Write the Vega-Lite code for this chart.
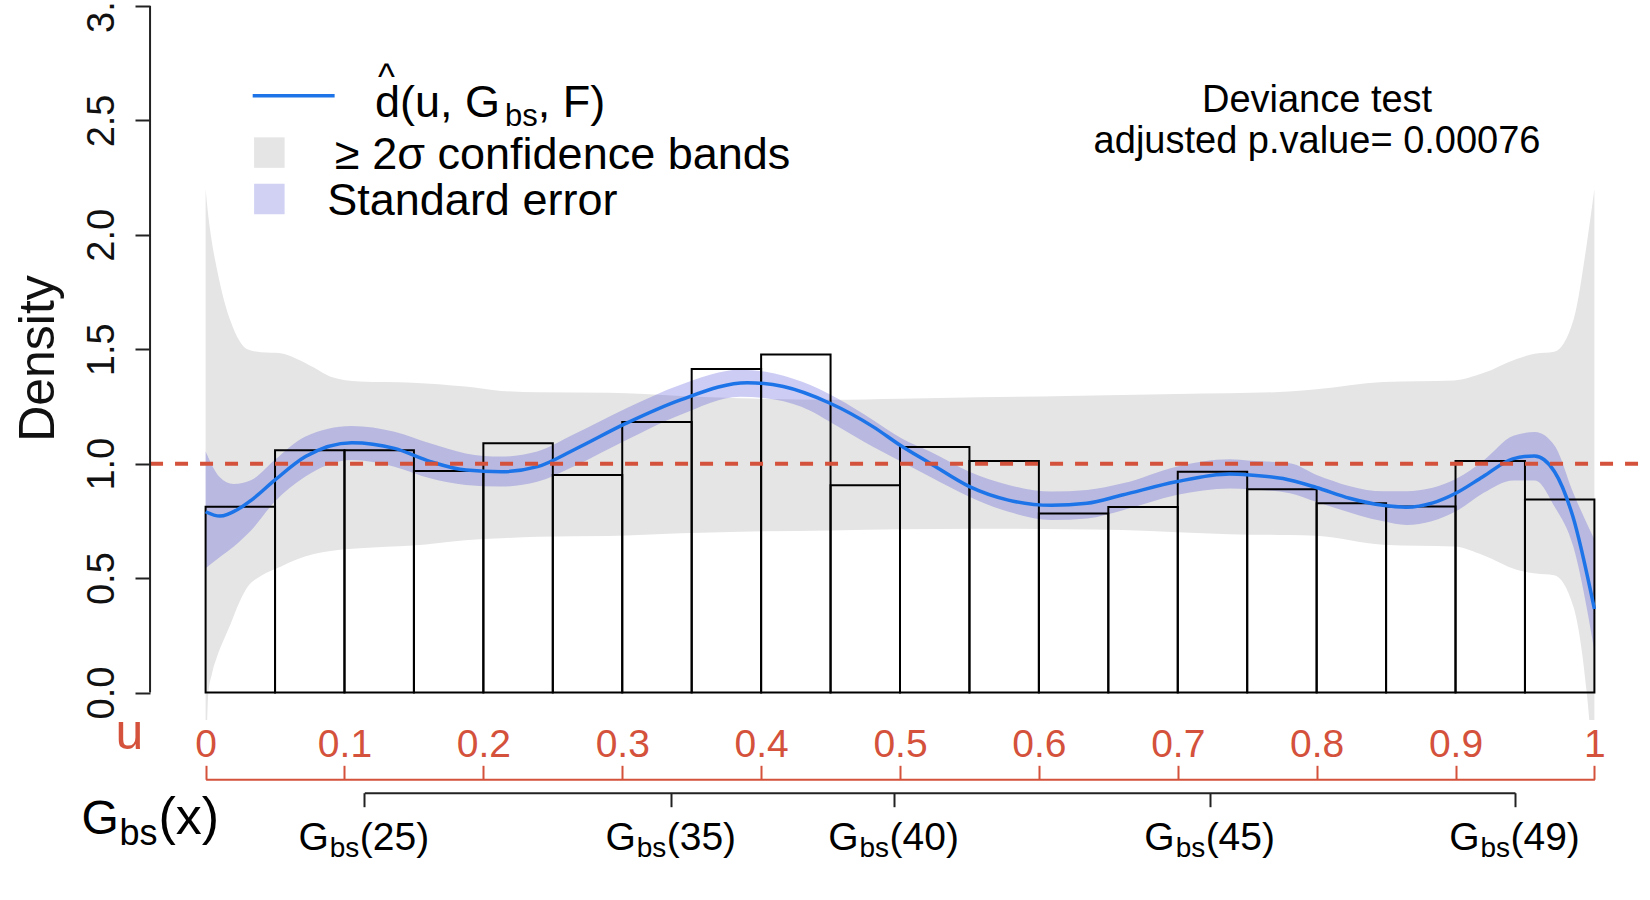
{
  "$schema": "https://vega.github.io/schema/vega-lite/v6.json",
  "width": 1500,
  "height": 714,
  "autosize": {"type": "none"},
  "padding": {"left": 150, "top": 6, "right": 0, "bottom": 180},
  "background": "white",
  "config": {
    "view": {"stroke": null},
    "font": "Liberation Sans",
    "axis": {"grid": false, "labelFont": "Liberation Sans", "titleFont": "Liberation Sans", "titleFontWeight": "normal", "labelFlush": false, "labelOverlap": false, "labelBound": false},
    "text": {"font": "Liberation Sans", "color": "#000"}
  },
  "datasets": {
    "hist": [
      {"start": 0.00, "end": 0.05, "density": 0.812},
      {"start": 0.05, "end": 0.10, "density": 1.059},
      {"start": 0.10, "end": 0.15, "density": 1.059},
      {"start": 0.15, "end": 0.20, "density": 0.968},
      {"start": 0.20, "end": 0.25, "density": 1.089},
      {"start": 0.25, "end": 0.30, "density": 0.951},
      {"start": 0.30, "end": 0.35, "density": 1.182},
      {"start": 0.35, "end": 0.40, "density": 1.414},
      {"start": 0.40, "end": 0.45, "density": 1.477},
      {"start": 0.45, "end": 0.50, "density": 0.906},
      {"start": 0.50, "end": 0.55, "density": 1.073},
      {"start": 0.55, "end": 0.60, "density": 1.012},
      {"start": 0.60, "end": 0.65, "density": 0.782},
      {"start": 0.65, "end": 0.70, "density": 0.811},
      {"start": 0.70, "end": 0.75, "density": 0.965},
      {"start": 0.75, "end": 0.80, "density": 0.888},
      {"start": 0.80, "end": 0.85, "density": 0.827},
      {"start": 0.85, "end": 0.90, "density": 0.813},
      {"start": 0.90, "end": 0.95, "density": 1.012},
      {"start": 0.95, "end": 1.00, "density": 0.843}
    ],
    "curve": [
      {"u": 0, "d": 0.790}, {"u": 0.0103, "d": 0.771}, {"u": 0.0244, "d": 0.805}, {"u": 0.033, "d": 0.841},
      {"u": 0.05, "d": 0.929}, {"u": 0.0719, "d": 1.031}, {"u": 0.1053, "d": 1.092}, {"u": 0.136, "d": 1.067},
      {"u": 0.162, "d": 1.009}, {"u": 0.1876, "d": 0.972}, {"u": 0.213, "d": 0.965}, {"u": 0.239, "d": 0.987},
      {"u": 0.265, "d": 1.06}, {"u": 0.303, "d": 1.177}, {"u": 0.342, "d": 1.279}, {"u": 0.39, "d": 1.354},
      {"u": 0.416, "d": 1.337}, {"u": 0.4496, "d": 1.264}, {"u": 0.4805, "d": 1.162}, {"u": 0.501, "d": 1.077},
      {"u": 0.5216, "d": 1.002}, {"u": 0.55, "d": 0.900}, {"u": 0.578, "d": 0.841}, {"u": 0.609, "d": 0.818},
      {"u": 0.6346, "d": 0.827}, {"u": 0.66, "d": 0.863}, {"u": 0.6988, "d": 0.921}, {"u": 0.7374, "d": 0.955},
      {"u": 0.7518, "d": 0.951}, {"u": 0.7758, "d": 0.935}, {"u": 0.7998, "d": 0.896}, {"u": 0.8237, "d": 0.849},
      {"u": 0.8477, "d": 0.818}, {"u": 0.8645, "d": 0.810}, {"u": 0.8837, "d": 0.829}, {"u": 0.9005, "d": 0.872},
      {"u": 0.9197, "d": 0.943}, {"u": 0.9412, "d": 1.021}, {"u": 0.9568, "d": 1.034}, {"u": 0.9712, "d": 0.966},
      {"u": 0.9844, "d": 0.771}, {"u": 1.0, "d": 0.365}
    ],
    "band": [
      {"u": 0, "lo": -0.4, "hi": 2.2}, {"u": 0.002, "lo": 0.0, "hi": 2.08}, {"u": 0.0045, "lo": 0.08, "hi": 1.97},
      {"u": 0.0084, "lo": 0.16, "hi": 1.843}, {"u": 0.013, "lo": 0.23, "hi": 1.72}, {"u": 0.018, "lo": 0.30, "hi": 1.622},
      {"u": 0.024, "lo": 0.39, "hi": 1.54}, {"u": 0.030, "lo": 0.46, "hi": 1.50}, {"u": 0.040, "lo": 0.51, "hi": 1.487},
      {"u": 0.054, "lo": 0.55, "hi": 1.483}, {"u": 0.065, "lo": 0.58, "hi": 1.46}, {"u": 0.078, "lo": 0.605, "hi": 1.42},
      {"u": 0.090, "lo": 0.618, "hi": 1.38}, {"u": 0.111, "lo": 0.63, "hi": 1.359}, {"u": 0.149, "lo": 0.642, "hi": 1.354},
      {"u": 0.187, "lo": 0.666, "hi": 1.337}, {"u": 0.213, "lo": 0.674, "hi": 1.318}, {"u": 0.239, "lo": 0.681, "hi": 1.312},
      {"u": 0.29, "lo": 0.684, "hi": 1.31}, {"u": 0.342, "lo": 0.696, "hi": 1.296}, {"u": 0.385, "lo": 0.703, "hi": 1.286},
      {"u": 0.45, "lo": 0.708, "hi": 1.279}, {"u": 0.50, "lo": 0.713, "hi": 1.284}, {"u": 0.557, "lo": 0.716, "hi": 1.29},
      {"u": 0.62, "lo": 0.714, "hi": 1.296}, {"u": 0.66, "lo": 0.71, "hi": 1.30}, {"u": 0.70, "lo": 0.70, "hi": 1.305},
      {"u": 0.737, "lo": 0.692, "hi": 1.308}, {"u": 0.78, "lo": 0.688, "hi": 1.315}, {"u": 0.80, "lo": 0.685, "hi": 1.325},
      {"u": 0.848, "lo": 0.646, "hi": 1.357}, {"u": 0.899, "lo": 0.638, "hi": 1.364}, {"u": 0.92, "lo": 0.60, "hi": 1.396},
      {"u": 0.944, "lo": 0.537, "hi": 1.458}, {"u": 0.958, "lo": 0.52, "hi": 1.481}, {"u": 0.971, "lo": 0.513, "hi": 1.489},
      {"u": 0.985, "lo": 0.373, "hi": 1.63}, {"u": 0.9945, "lo": 0.0, "hi": 1.96}, {"u": 1.0, "lo": -0.4, "hi": 2.2}
    ],
    "se": [
      {"u": 0, "lo": 0.543, "hi": 1.053}, {"u": 0.0099, "lo": 0.59, "hi": 0.943}, {"u": 0.0201, "lo": 0.637, "hi": 0.911},
      {"u": 0.033, "lo": 0.71, "hi": 0.929}, {"u": 0.0497, "lo": 0.834, "hi": 1.016}, {"u": 0.0716, "lo": 0.943, "hi": 1.118},
      {"u": 0.105, "lo": 1.016, "hi": 1.165}, {"u": 0.136, "lo": 0.987, "hi": 1.14}, {"u": 0.1616, "lo": 0.936, "hi": 1.089},
      {"u": 0.1873, "lo": 0.907, "hi": 1.045}, {"u": 0.213, "lo": 0.90, "hi": 1.031}, {"u": 0.2387, "lo": 0.921, "hi": 1.053},
      {"u": 0.2645, "lo": 0.987, "hi": 1.126}, {"u": 0.303, "lo": 1.104, "hi": 1.242}, {"u": 0.3416, "lo": 1.213, "hi": 1.344},
      {"u": 0.3848, "lo": 1.293, "hi": 1.41}, {"u": 0.4033, "lo": 1.286, "hi": 1.402}, {"u": 0.429, "lo": 1.249, "hi": 1.359},
      {"u": 0.4547, "lo": 1.165, "hi": 1.286}, {"u": 0.4805, "lo": 1.074, "hi": 1.191}, {"u": 0.501, "lo": 1.009, "hi": 1.111},
      {"u": 0.5216, "lo": 0.943, "hi": 1.053}, {"u": 0.5499, "lo": 0.856, "hi": 0.965}, {"u": 0.5782, "lo": 0.79, "hi": 0.907},
      {"u": 0.609, "lo": 0.754, "hi": 0.878}, {"u": 0.6347, "lo": 0.761, "hi": 0.885}, {"u": 0.6605, "lo": 0.797, "hi": 0.914},
      {"u": 0.699, "lo": 0.863, "hi": 0.987}, {"u": 0.7376, "lo": 0.892, "hi": 1.019}, {"u": 0.752, "lo": 0.888, "hi": 1.013},
      {"u": 0.7808, "lo": 0.871, "hi": 1.002}, {"u": 0.80, "lo": 0.833, "hi": 0.951}, {"u": 0.848, "lo": 0.748, "hi": 0.88},
      {"u": 0.8648, "lo": 0.732, "hi": 0.88}, {"u": 0.9009, "lo": 0.794, "hi": 0.935}, {"u": 0.92, "lo": 0.872, "hi": 1.013},
      {"u": 0.9416, "lo": 0.927, "hi": 1.122}, {"u": 0.9572, "lo": 0.927, "hi": 1.138}, {"u": 0.9716, "lo": 0.81, "hi": 1.076},
      {"u": 0.9848, "lo": 0.638, "hi": 0.872}, {"u": 1.0, "lo": 0.185, "hi": 0.669}
    ],
    "gbs": [
      {"n": 25, "q": 0.1143}, {"n": 35, "q": 0.3353}, {"n": 40, "q": 0.4957}, {"n": 45, "q": 0.7233}, {"n": 49, "q": 0.9428}
    ]
  },
  "layer": [
    {
      "layer": [
        {
          "data": {"name": "band"},
          "mark": {"type": "area", "color": "#E5E5E5", "interpolate": "monotone", "clip": true},
          "encoding": {
            "x": {"field": "u", "type": "quantitative",
              "scale": {"domain": [0, 1], "range": [55.6, 1444.4], "nice": false, "zero": false},
              "axis": {"orient": "top", "offset": -773.3, "title": "u",
                "values": [0, 0.1, 0.2, 0.3, 0.4, 0.5, 0.6, 0.7, 0.8, 0.9, 1], "format": "~g",
                "domain": true, "domainColor": "#D4513B", "domainWidth": 2,
                "ticks": true, "tickColor": "#D4513B", "tickWidth": 2, "tickSize": 14,
                "labelColor": "#D4513B", "labelFontSize": 39, "labelBaseline": "alphabetic", "labelPadding": 9.3, "labelAlign": "center",
                "titleColor": "#D4513B", "titleFontSize": 50, "titleX": -21, "titleY": -31, "titleAlign": "center", "titleBaseline": "alphabetic", "titleAngle": 0}
            },
            "y": {"field": "lo", "type": "quantitative",
              "scale": {"domain": [-0.12, 3], "nice": false, "zero": false},
              "axis": {"title": "Density", "values": [0, 0.5, 1, 1.5, 2, 2.5, 3], "format": ".1f",
                "domain": false, "ticks": true, "tickColor": "#222", "tickWidth": 2, "tickSize": 15,
                "labelAngle": -90, "labelAlign": "center", "labelBaseline": "alphabetic", "labelPadding": 22, "labelFontSize": 38, "labelColor": "#111",
                "titleFontSize": 50, "titleAngle": -90, "titleX": -96.7, "titleY": 352, "titleAlign": "center", "titleBaseline": "alphabetic", "titleColor": "#111"}
            },
            "y2": {"field": "hi"}
          }
        },
        {
          "data": {"name": "se"},
          "mark": {"type": "area", "color": "#2A2AD0", "opacity": 0.24, "interpolate": "monotone"},
          "encoding": {
            "x": {"field": "u", "type": "quantitative"},
            "y": {"field": "lo", "type": "quantitative"},
            "y2": {"field": "hi"}
          }
        },
        {
          "data": {"name": "hist"},
          "mark": {"type": "rect", "fillOpacity": 0, "stroke": "#000", "strokeWidth": 2},
          "encoding": {
            "x": {"field": "start", "type": "quantitative"},
            "x2": {"field": "end"},
            "y": {"field": "density", "type": "quantitative"},
            "y2": {"datum": 0}
          }
        },
        {
          "data": {"name": "curve"},
          "mark": {"type": "line", "color": "#1C74E8", "strokeWidth": 3.5, "interpolate": "monotone"},
          "encoding": {
            "x": {"field": "u", "type": "quantitative"},
            "y": {"field": "d", "type": "quantitative"}
          }
        },
        {
          "data": {"values": [{}]},
          "mark": {"type": "rule", "color": "#D4513B", "strokeWidth": 4, "strokeDash": [13, 12]},
          "encoding": {"x": {"datum": -0.04}, "x2": {"datum": 1.04}, "y": {"datum": 1}}
        },
        {
          "data": {"values": [{}]},
          "mark": {"type": "rule", "color": "#222", "strokeWidth": 2},
          "encoding": {"x": {"datum": -0.04}, "y": {"datum": 0}, "y2": {"datum": 3}}
        },
        {
          "data": {"values": [{}]},
          "mark": {"type": "text", "fontSize": 38, "align": "center", "baseline": "alphabetic", "lineHeight": 41},
          "encoding": {"x": {"datum": 0.8003}, "y": {"datum": 2.5368}, "text": {"value": ["Deviance test", "adjusted p.value= 0.00076"]}}
        },
        {
          "data": {"values": [{}]},
          "mark": {"type": "rule", "color": "#1C74E8", "strokeWidth": 3.5},
          "encoding": {"x": {"datum": 0.0339}, "x2": {"datum": 0.0929}, "y": {"datum": 2.6076}}
        },
        {
          "data": {"values": [{}]},
          "mark": {"type": "text", "fontSize": 36, "align": "center", "baseline": "alphabetic"},
          "encoding": {"x": {"datum": 0.1302}, "y": {"datum": 2.6386}, "text": {"value": "^"}}
        },
        {
          "data": {"values": [{}]},
          "mark": {"type": "text", "fontSize": 45, "align": "left", "baseline": "alphabetic"},
          "encoding": {"x": {"datum": 0.1220}, "y": {"datum": 2.5128}, "text": {"value": "d(u, G"}}
        },
        {
          "data": {"values": [{}]},
          "mark": {"type": "text", "fontSize": 31, "align": "left", "baseline": "alphabetic"},
          "encoding": {"x": {"datum": 0.2156}, "y": {"datum": 2.4735}, "text": {"value": "bs"}}
        },
        {
          "data": {"values": [{}]},
          "mark": {"type": "text", "fontSize": 45, "align": "left", "baseline": "alphabetic"},
          "encoding": {"x": {"datum": 0.2392}, "y": {"datum": 2.5128}, "text": {"value": ", F)"}}
        },
        {
          "data": {"values": [{}]},
          "mark": {"type": "point", "shape": "square", "filled": true, "color": "#E5E5E5", "opacity": 1, "size": 930},
          "encoding": {"x": {"datum": 0.0459}, "y": {"datum": 2.3594}}
        },
        {
          "data": {"values": [{}]},
          "mark": {"type": "text", "fontSize": 45, "align": "left", "baseline": "alphabetic"},
          "encoding": {"x": {"datum": 0.0932}, "y": {"datum": 2.2891}, "text": {"value": "≥ 2σ confidence bands"}}
        },
        {
          "data": {"values": [{}]},
          "mark": {"type": "point", "shape": "square", "filled": true, "color": "#D1D1F4", "opacity": 1, "size": 930},
          "encoding": {"x": {"datum": 0.0459}, "y": {"datum": 2.1567}}
        },
        {
          "data": {"values": [{}]},
          "mark": {"type": "text", "fontSize": 45, "align": "left", "baseline": "alphabetic"},
          "encoding": {"x": {"datum": 0.0876}, "y": {"datum": 2.0867}, "text": {"value": "Standard error"}}
        }
      ]
    },
    {
      "data": {"name": "gbs"},
      "mark": {"type": "point", "opacity": 0},
      "encoding": {
        "x": {"field": "q", "type": "quantitative",
          "scale": {"domain": [0.1143, 0.9428], "range": [214.3, 1365.0], "nice": false, "zero": false},
          "axis": {"orient": "bottom", "offset": 72.7, "values": [0.1143, 0.3353, 0.4957, 0.7233, 0.9428],
            "labelExpr": "'G'", "domain": true, "domainColor": "#222", "domainWidth": 2,
            "ticks": true, "tickColor": "#222", "tickWidth": 2, "tickSize": 14,
            "labelFontSize": 39, "labelAlign": "right", "labelOffset": -36, "labelBaseline": "alphabetic", "labelPadding": 42.6, "labelColor": "#000",
            "title": "G", "titleFontSize": 48, "titleX": -69, "titleY": 40.6, "titleAlign": "left", "titleBaseline": "alphabetic", "titleColor": "#000"}
        }
      }
    },
    {
      "data": {"name": "gbs"},
      "mark": {"type": "point", "opacity": 0},
      "encoding": {
        "x": {"field": "q", "type": "quantitative",
          "scale": {"domain": [0.1143, 0.9428], "range": [214.3, 1365.0], "nice": false, "zero": false},
          "axis": {"orient": "bottom", "offset": 72.7, "values": [0.1143, 0.3353, 0.4957, 0.7233, 0.9428],
            "labelExpr": "'bs'", "domain": false,
            "ticks": true, "tickOpacity": 0, "tickSize": 14,
            "labelFontSize": 28, "labelAlign": "left", "labelOffset": -35, "labelBaseline": "alphabetic", "labelPadding": 50, "labelColor": "#000",
            "title": "bs", "titleFontSize": 36, "titleX": -31, "titleY": 51.3, "titleAlign": "left", "titleBaseline": "alphabetic", "titleColor": "#000"}
        }
      }
    },
    {
      "data": {"name": "gbs"},
      "mark": {"type": "point", "opacity": 0},
      "encoding": {
        "x": {"field": "q", "type": "quantitative",
          "scale": {"domain": [0.1143, 0.9428], "range": [214.3, 1365.0], "nice": false, "zero": false},
          "axis": {"orient": "bottom", "offset": 72.7, "values": [0.1143, 0.3353, 0.4957, 0.7233, 0.9428],
            "labelExpr": "datum.value < 0.2 ? '(25)' : datum.value < 0.4 ? '(35)' : datum.value < 0.6 ? '(40)' : datum.value < 0.8 ? '(45)' : '(49)'",
            "domain": false,
            "ticks": true, "tickOpacity": 0, "tickSize": 14,
            "labelFontSize": 39, "labelAlign": "left", "labelOffset": -5, "labelBaseline": "alphabetic", "labelPadding": 42.6, "labelColor": "#000",
            "title": "(x)", "titleFontSize": 52, "titleX": 8, "titleY": 40.6, "titleAlign": "left", "titleBaseline": "alphabetic", "titleColor": "#000"}
        }
      }
    }
  ],
  "resolve": {"scale": {"x": "independent"}, "axis": {"x": "independent"}}
}
